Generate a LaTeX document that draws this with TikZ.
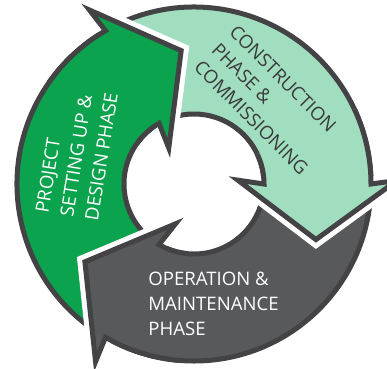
\documentclass[tikz,border=0pt]{standalone}
\usepackage{fontspec}
\setmainfont{Open Sans}
\definecolor{cgreen}{HTML}{0BA34D}
\definecolor{cmint}{HTML}{A1DDBF}
\definecolor{cgray}{HTML}{58595B}
\definecolor{cdark}{HTML}{434345}
\definecolor{ctext}{HTML}{3A3A3C}
\tikzset{
  border/.style={draw=cdark, line width=5pt, line join=miter},
  gap/.style={draw=white, line width=15pt, line join=miter},
  label/.style={align=left, font=\fontsize{18.6}{25}\selectfont, inner sep=0pt}
}
\begin{document}
\begin{tikzpicture}[x=1pt,y=1pt]
\useasboundingbox (-194,-184) rectangle (193,184);
\fill[white] (-194,-184) rectangle (193,184);
% bands
\foreach \b/\c in {120/cgreen, 0/cmint, 240/cgray} {
  \pgfmathsetmacro\tl{\b+120}
  \fill[\c] (\tl:177pt) arc[start angle=\tl, end angle=\b, radius=177pt]
     -- (\b:70pt) arc[start angle=\b, end angle=\tl, radius=70pt] -- cycle;
  \draw[border] (\tl:177pt) arc[start angle=\tl, end angle=\b, radius=177pt];
  \draw[border] (\tl:70pt) arc[start angle=\tl, end angle=\b, radius=70pt];
}
% heads
\foreach \b/\c in {120/cgreen, 0/cmint, 240/cgray} {
  \pgfmathsetmacro\bo{\b+1}
  \pgfmathsetmacro\bt{\b-24.5}
  \pgfmathsetmacro\bi{\b+5}
  \pgfmathsetmacro\bs{\b+25}
  \draw[gap] (\b:177pt) -- (\bo:203pt) -- (\bt:134pt) -- (\bi:44pt) -- (\b:70pt) -- cycle;
  \filldraw[border, fill=\c] (\bs:177pt) arc[start angle=\bs, end angle=\b, radius=177pt]
     -- (\bo:203pt) -- (\bt:134pt) -- (\bi:44pt) -- (\b:70pt)
     arc[start angle=\b, end angle=\bs, radius=70pt];
}
\node[label, rotate=81, text=white] (tgreen) at (-117.3,31.5) {PROJECT\\SETTING UP \&\\DESIGN PHASE};
\node[label, rotate=-45, text=ctext] (tmint) at (75,84) {CONSTRUCTION\\PHASE \&\\COMMISSIONING};
\node[label, text=white] (tgray) at (19.5,-119.5) {OPERATION \&\\MAINTENANCE\\PHASE};
\end{tikzpicture}
\end{document}
